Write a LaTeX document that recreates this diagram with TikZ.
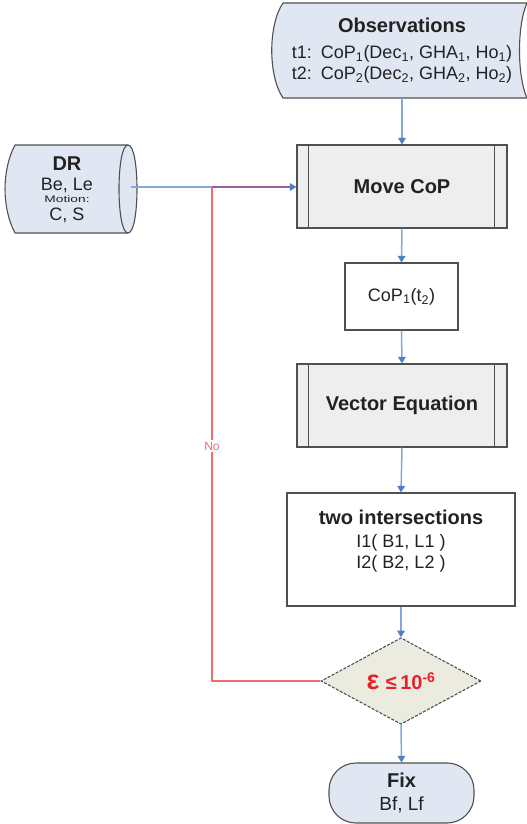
\documentclass[tikz,border=0pt]{standalone}
\usepackage{fontspec}
\usepackage{graphicx}
\setmainfont{Liberation Sans}
\usetikzlibrary{arrows.meta,shapes.geometric,calc}

\definecolor{lineblue}{HTML}{82A8DC}
\definecolor{tipblue}{HTML}{4D7FC4}
\definecolor{loopred}{HTML}{F26B6B}
\definecolor{mixpurple}{HTML}{9C5E96}
\definecolor{edgegray}{HTML}{505050}
\definecolor{procfill}{HTML}{EEEEEE}
\definecolor{datafill}{HTML}{E0E7F3}
\definecolor{testfill}{HTML}{EBEBDF}
\definecolor{testred}{HTML}{E8202A}
\definecolor{inktext}{HTML}{222222}

\tikzset{
  titlefont/.style={font=\fontsize{20}{24}\selectfont\bfseries},
  bodyfont/.style={font=\fontsize{18}{21}\selectfont},
  outline/.style={draw=edgegray, line width=1.1pt},
  procbox/.style={outline, fill=procfill, minimum width=210pt, minimum height=83pt,
    titlefont, text=inktext},
  plainbox/.style={outline, fill=white, text=inktext},
  flow/.style={draw=lineblue, line width=1.5pt,
    -{Triangle[width=7.5pt,length=6.5pt,color=tipblue]}},
  loop/.style={draw=loopred, line width=1.3pt},
}

\begin{document}
\begin{tikzpicture}[x=1pt,y=-1pt]
\useasboundingbox (0,0) rectangle (527,824);

% observations (stored data)
\path[outline, fill=datafill]
  (283,3) -- (527,3) .. controls (517,25) and (517,76) .. (527,98)
  -- (283,98) .. controls (268,76) and (268,25) .. (283,3) -- cycle;
\node[bodyfont, text=inktext, align=center, minimum width=240pt, minimum height=95pt,
      inner sep=0pt] (obs) at (402,50.5)
  {{\fontsize{20}{24}\selectfont\bfseries Observations}\\[5pt]
   t1:\enspace CoP\textsubscript{1}(Dec\textsubscript{1}, GHA\textsubscript{1}, Ho\textsubscript{1})\\
   t2:\enspace CoP\textsubscript{2}(Dec\textsubscript{2}, GHA\textsubscript{2}, Ho\textsubscript{2})};

% dead reckoning (horizontal drum)
\path[outline, fill=datafill]
  (15,145) -- (128,145) .. controls (140,145) and (140,233) .. (128,233)
  -- (15,233) .. controls (1.7,208) and (1.7,170) .. (15,145) -- cycle;
\draw[outline] (128,145) .. controls (116,145) and (116,233) .. (128,233);
\node[bodyfont, text=inktext, align=center, minimum width=128pt, minimum height=88pt,
      inner sep=0pt] (dr) at (67,190)
  {{\fontsize{20}{22}\selectfont\bfseries DR}\\[-0.6pt]
   Be, Le\\[-9pt]
   {\fontsize{9.5}{12}\selectfont\scalebox{1.45}[1]{Motion:}}\\[-3pt]
   C, S};

% process chain
\node[procbox] (move) at (402,186.5) {Move CoP};
\draw[outline] ([xshift=12pt]move.north west) -- ([xshift=12pt]move.south west);
\draw[outline] ([xshift=-13pt]move.north east) -- ([xshift=-13pt]move.south east);

\node[plainbox, bodyfont, minimum width=113pt, minimum height=67pt] (cop) at (401.5,296.5)
  {CoP\textsubscript{1}(t\textsubscript{2})};

\node[procbox] (vec) at (402,405.5) {Vector Equation};
\draw[outline] ([xshift=12pt]vec.north west) -- ([xshift=12pt]vec.south west);
\draw[outline] ([xshift=-13pt]vec.north east) -- ([xshift=-13pt]vec.south east);

\node[plainbox, bodyfont, align=center, minimum width=228pt, minimum height=113pt,
      text depth=20pt] (two) at (401,549.5)
  {{\fontsize{20}{24}\selectfont\bfseries two intersections}\\[2pt]
   I1( B1, L1 )\\ I2( B2, L2 )};

% convergence test
\node[diamond, draw=edgegray, line width=1.1pt, dash pattern=on 3pt off 1.5pt,
      fill=testfill, minimum width=160pt, minimum height=84pt, inner sep=0pt,
      text=testred, font=\fontsize{20}{24}\selectfont\bfseries] (test) at (401,681)
  {{\fontsize{27}{24}\selectfont ε}\,\,≤\,10\textsuperscript{-6}};

% result
\node[outline, fill=datafill, rounded corners=27pt, minimum width=145pt,
      minimum height=60pt, align=center, text=inktext,
      font=\fontsize{19}{23}\selectfont] (fix) at (401.5,793)
  {{\fontsize{20}{23}\selectfont\bfseries Fix}\\[0pt]
   Bf, Lf};

% connectors
\coordinate (jn) at (212,187);
\draw[flow] (obs.south) -- (move.north);
\draw[flow] (dr.east |- jn) -- (move.west |- jn);
\draw[loop] (test.west) -| (jn);
\draw[draw=mixpurple, line width=1.5pt] (jn) -- ([xshift=-6.5pt]move.west |- jn);
\draw[flow] (move.south) -- (cop.north);
\draw[flow] (cop.south) -- (vec.north);
\draw[flow] (vec.south) -- (two.north);
\draw[flow] (two.south) -- (test.north);
\draw[flow] (test.south) -- (fix.north);

\node[text=loopred, fill=white, inner sep=1.5pt, font=\fontsize{12}{13}\selectfont]
  (no) at (212,446) {No};
\end{tikzpicture}
\end{document}
